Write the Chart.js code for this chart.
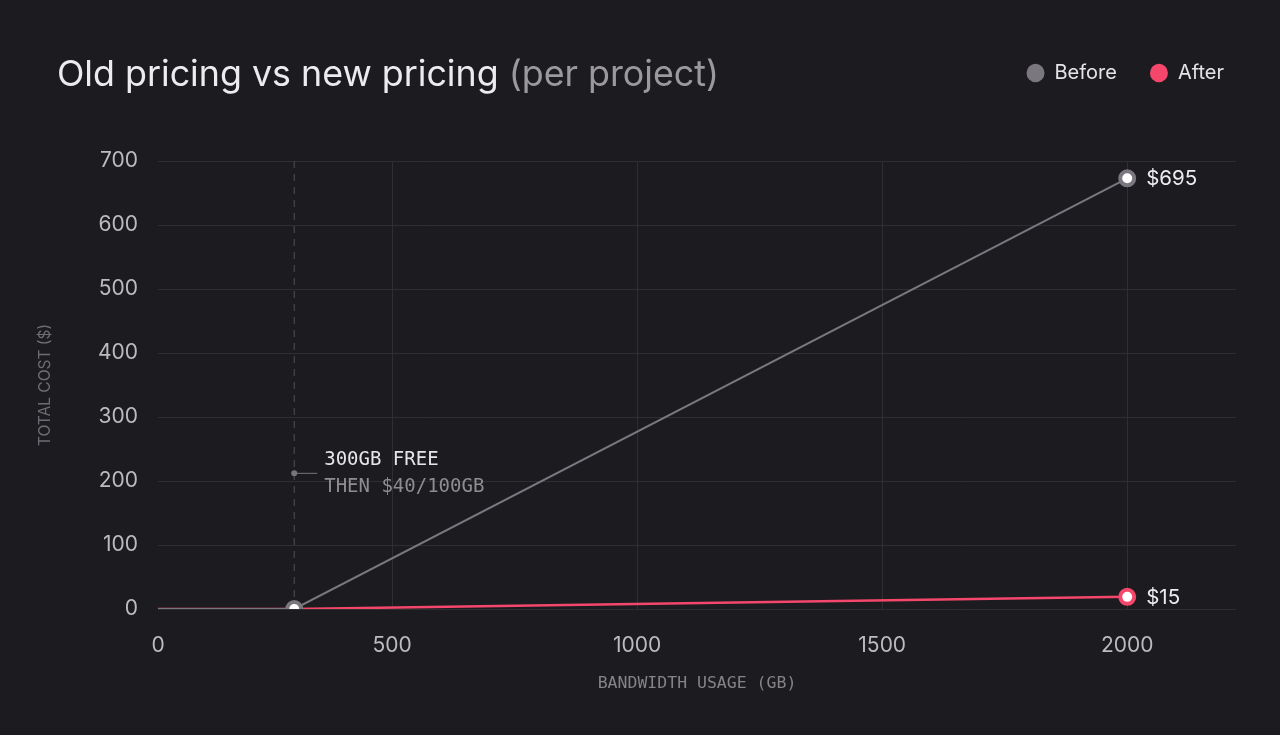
<!DOCTYPE html>
<html>
<head>
<meta charset="utf-8">
<script src="https://cdn.jsdelivr.net/npm/chart.js@4"></script>
<style>
  html, body { margin: 0; padding: 0; background: #1c1b1f; }
  #wrap { width: 1280px; height: 735px; position: relative; }
</style>
</head>
<body>
<div id="wrap"><canvas id="chart"></canvas></div>
<script>
'use strict';
// Данные графика
const bandwidthGb = [0, 300, 2000];
const beforeCost = [0, 0, 673];
const afterCost = [0, 0, 19];
const endLabels = ['$695', '$15'];
const xTicks = [0, 500, 1000, 1500, 2000];
const yTicks = [0, 100, 200, 300, 400, 500, 600, 700];
const freeTierGb = 300;
const noteCost = 212;
const noteLines = ['300GB FREE', 'THEN $40/100GB'];

const grayLine = '#7a787e';
const pink = '#f4476b';
const gridColor = '#2f2e33';
const tickColor = '#bdbbc0';

// Заголовок в два цвета
const titlePlugin = {
    id: 'titleText',
    afterDraw(chart) {
        const ctx = chart.ctx;
        ctx.save();
        ctx.font = '35.8px Inter';
        ctx.textBaseline = 'alphabetic';
        ctx.textAlign = 'left';
        const main = 'Old pricing vs new pricing';
        ctx.fillStyle = '#ececee';
        ctx.fillText(main, 57, 86);
        const w = ctx.measureText(main + ' ').width;
        ctx.fillStyle = '#9b999e';
        ctx.fillText('(per project)', 57 + w, 86);
        ctx.restore();
    }
};

// Легенда занимает всю полосу над графиком
const legendSpace = {
    id: 'legendSpace',
    beforeLayout(chart) {
        const lg = chart.legend;
        if (lg && !lg._tall) {
            const fit = lg.fit;
            lg.fit = function () {
                fit.call(this);
                this.height = 131;
            };
            lg._tall = true;
        }
    }
};

// Пунктир на 300GB и подпись
const notePlugin = {
    id: 'note',
    beforeDatasetsDraw(chart) {
        const {ctx, chartArea, scales} = chart;
        const x = scales.x.getPixelForValue(freeTierGb);
        const y = scales.y.getPixelForValue(noteCost);
        ctx.save();
        ctx.strokeStyle = '#514f55';
        ctx.lineWidth = 1;
        ctx.setLineDash([7, 6]);
        ctx.beginPath();
        ctx.moveTo(x, chartArea.top);
        ctx.lineTo(x, chartArea.bottom);
        ctx.stroke();
        ctx.setLineDash([]);
        ctx.strokeStyle = '#77757a';
        ctx.beginPath();
        ctx.moveTo(x, y);
        ctx.lineTo(x + 23, y);
        ctx.stroke();
        ctx.fillStyle = '#77757a';
        ctx.beginPath();
        ctx.arc(x, y, 3, 0, Math.PI * 2);
        ctx.fill();
        ctx.font = '19px "DejaVu Sans Mono"';
        ctx.textBaseline = 'middle';
        ctx.fillStyle = '#e6e5e8';
        ctx.fillText(noteLines[0], x + 30, y - 13);
        ctx.fillStyle = '#8f8d92';
        ctx.fillText(noteLines[1], x + 30, y + 14);
        ctx.restore();
    }
};

// Подписи у последних точек
const endLabelPlugin = {
    id: 'endLabels',
    afterDatasetsDraw(chart) {
        const ctx = chart.ctx;
        ctx.save();
        ctx.font = '20.5px Inter';
        ctx.fillStyle = '#ececee';
        ctx.textBaseline = 'middle';
        chart.data.datasets.forEach((ds, i) => {
            const pt = chart.getDatasetMeta(i).data[ds.data.length - 1];
            ctx.fillText(endLabels[i], pt.x + 19, pt.y + 1);
        });
        ctx.restore();
    }
};

const ctx = document.getElementById('chart').getContext('2d');
new Chart(ctx, {
    type: 'line',
    data: {
        labels: bandwidthGb,
        datasets: [{
            label: 'Before',
            data: bandwidthGb.map((x, i) => ({x: x, y: beforeCost[i]})),
            borderColor: grayLine,
            backgroundColor: grayLine,
            borderWidth: 2,
            pointRadius: [0, 7, 7],
            pointBorderWidth: 4,
            pointBorderColor: grayLine,
            pointBackgroundColor: '#ffffff'
        }, {
            label: 'After',
            data: bandwidthGb.map((x, i) => ({x: x, y: afterCost[i]})),
            borderColor: pink,
            backgroundColor: pink,
            borderWidth: 2.5,
            pointRadius: [0, 0, 7],
            pointBorderWidth: 4,
            pointBorderColor: pink,
            pointBackgroundColor: '#ffffff'
        }]
    },
    options: {
        responsive: true,
        maintainAspectRatio: false,
        animation: false,
        events: [],
        layout: { padding: { top: 30, right: 23, left: 0, bottom: 0 } },
        plugins: {
            tooltip: { enabled: false },
            legend: {
                position: 'top',
                align: 'end',
                labels: {
                    usePointStyle: true,
                    pointStyle: 'circle',
                    boxHeight: 13,
                    pointStyleWidth: 18,
                    padding: 33,
                    color: '#e4e3e6',
                    font: { family: 'Inter', size: 20 },
                    generateLabels(chart) {
                        const items = Chart.defaults.plugins.legend.labels.generateLabels(chart);
                        items.forEach((it, i) => {
                            it.fillStyle = chart.data.datasets[i].borderColor;
                            it.strokeStyle = chart.data.datasets[i].borderColor;
                            it.lineWidth = 0;
                        });
                        return items;
                    }
                }
            }
        },
        scales: {
            x: {
                type: 'linear',
                min: 22,
                max: 2222,
                border: { display: false },
                grid: {
                    drawTicks: false,
                    color: c => (c.index === 0 ? 'rgba(0,0,0,0)' : gridColor)
                },
                afterBuildTicks(scale) {
                    scale.ticks = xTicks.map(v => ({ value: Math.max(v, scale.min) }));
                },
                afterFit(scale) {
                    scale.height = 126;
                    scale.paddingRight = 44;
                },
                ticks: {
                    padding: 24,
                    color: tickColor,
                    font: { family: 'Inter', size: 21 },
                    callback: (v, i) => String(xTicks[i])
                },
                title: {
                    display: true,
                    text: 'BANDWIDTH USAGE (GB)',
                    color: '#858388',
                    font: { family: 'DejaVu Sans Mono', size: 16.5 },
                    padding: { top: 0, bottom: 41 }
                }
            },
            y: {
                min: 0,
                max: 700,
                border: { display: false },
                grid: { drawTicks: false, color: gridColor },
                afterBuildTicks(scale) {
                    scale.ticks = yTicks.map(v => ({ value: v }));
                },
                afterFit(scale) {
                    scale.width = 158;
                },
                ticks: {
                    padding: 20,
                    color: tickColor,
                    font: { family: 'Inter', size: 21 }
                },
                title: {
                    display: true,
                    text: 'TOTAL COST ($)',
                    color: '#6f6d73',
                    font: { family: 'Inter', size: 15.5 },
                    padding: { top: 36, bottom: 0 }
                }
            }
        }
    },
    plugins: [legendSpace, titlePlugin, notePlugin, endLabelPlugin]
});
</script>
</body>
</html>
